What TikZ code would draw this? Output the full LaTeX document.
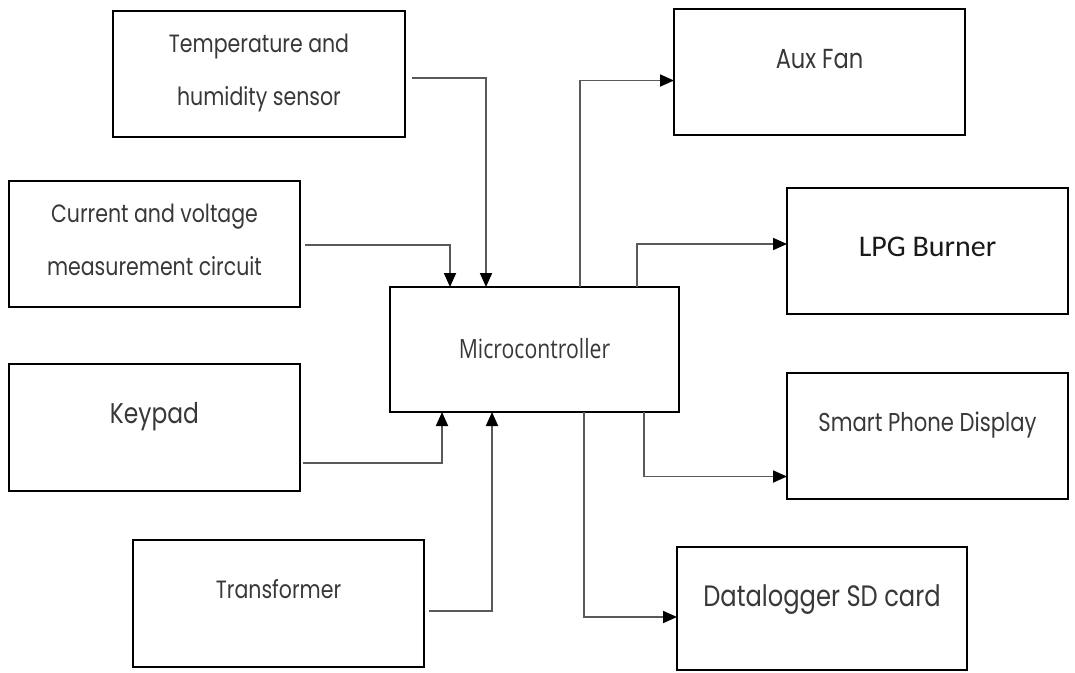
\documentclass[tikz,border=0pt]{standalone}
\usepackage{fontspec}
\usepackage{tikz}
\usetikzlibrary{arrows.meta}
\usetikzlibrary{calc}

\newfontfamily\rndfont[FakeStretch=0.82]{Poppins}
\newfontfamily\mcfont[FakeStretch=0.8]{Open Sans}
\newfontfamily\calfont{Carlito}

\begin{document}
\begin{tikzpicture}[x=1pt, y=-1pt,
    >={Triangle[length=14pt, width=12pt, color=black]},
    block/.style={draw, line width=2.6pt, anchor=north west, inner sep=0pt, outer sep=0pt},
    txt/.style={anchor=base, text=black!78, inner sep=0pt, align=center,
        font=\rndfont\fontsize{25}{53}\selectfont},
    bigtxt/.style={txt, font=\rndfont\fontsize{28.5}{53}\selectfont},
    conn/.style={draw=black!65, line width=1.8pt}]
        \useasboundingbox (0,0) rectangle (1075,672);

        % Inputs
        \node[block, minimum width=292pt, minimum height=126pt] (temp) at (113,11) {};
        \node[block, minimum width=291pt, minimum height=126pt] (curr) at (9,181) {};
        \node[block, minimum width=291pt, minimum height=127pt] (keypad) at (9,364) {};
        \node[block, minimum width=291pt, minimum height=127pt] (trans) at (133,540) {};

        % Microcontroller
        \node[block, minimum width=289pt, minimum height=125pt] (micro) at (390,287) {};

        % Outputs
        \node[block, minimum width=291pt, minimum height=126pt] (aux) at (674,9) {};
        \node[block, minimum width=281pt, minimum height=126pt] (lpg) at (787,188) {};
        \node[block, minimum width=281pt, minimum height=126pt] (phone) at (787,373) {};
        \node[block, minimum width=290pt, minimum height=123pt] (data) at (677,547) {};

        % Texts (two-line nodes sit on their last baseline)
        \node[txt] (temptxt) at (temp.center |- 0,105) {Temperature and\\humidity sensor};
        \node[txt] (currtxt) at (curr.center |- 0,275) {Current and voltage\\measurement circuit};
        \node[bigtxt] (keytxt) at (keypad.center |- 0,423) {Keypad};
        \node[txt] (transtxt) at (trans.center |- 0,598) {Transformer};
        \node[txt, font=\mcfont\fontsize{26.5}{26}\selectfont] (microtxt) at (micro.center |- 0,358) {Microcontroller};
        \node[txt, font=\rndfont\fontsize{27.5}{27}\selectfont] (auxtxt) at (aux.center |- 0,68) {Aux Fan};
        \node[txt, text=black!90, font=\calfont\fontsize{30}{30}\selectfont] (lpgtxt) at (lpg.center |- 0,256) {LPG Burner};
        \node[txt, font=\rndfont\fontsize{25.8}{26}\selectfont] (phonetxt) at (phone.center |- 0,431) {Smart Phone Display};
        \node[bigtxt, font=\rndfont\fontsize{29.5}{30}\selectfont] (datatxt) at (data.center |- 0,606) {Datalogger SD card};

        % Connectors into the microcontroller
        \draw[conn, ->] ([xshift=7pt, yshift=-4pt]temp.east) -| ([xshift=96pt]micro.north west);
        \draw[conn, ->] ([xshift=5pt, yshift=-1pt]curr.east) -| ([xshift=60pt]micro.north west);
        \draw[conn, ->] ([xshift=3pt, yshift=-35.5pt]keypad.east) -| ([xshift=52pt]micro.south west);
        \draw[conn, ->] ([xshift=5pt, yshift=-7.5pt]trans.east) -| ([xshift=102pt]micro.south west);

        % Connectors out of the microcontroller
        \draw[conn, ->] ([xshift=190pt]micro.north west) |- ([yshift=-8.5pt]aux.west);
        \draw[conn, ->] ([xshift=247pt]micro.north west) |- ([yshift=7pt]lpg.west);
        \draw[conn, ->] ([xshift=254pt]micro.south west) |- ([yshift=-40.5pt]phone.west);
        \draw[conn, ->] ([xshift=194pt]micro.south west) |- ([yshift=-8.5pt]data.west);
\end{tikzpicture}
\end{document}
